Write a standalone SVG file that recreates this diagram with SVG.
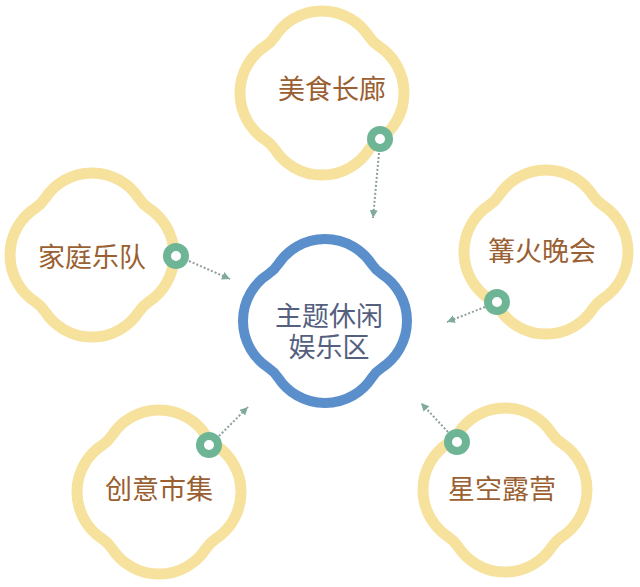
<svg xmlns="http://www.w3.org/2000/svg" width="640" height="587" viewBox="0 0 640 587">
  <style>
    .lobe { fill: #ffffff; stroke: #f6e19d; stroke-width: 11; }
    .hub { fill: #ffffff; stroke: #5b8fcb; stroke-width: 10; }
    .ring { fill: #ffffff; stroke: #6db595; stroke-width: 8; }
    .label { font-family: "Liberation Sans", "Noto Sans CJK SC", sans-serif; font-size: 27px; fill: #9a5f32; text-anchor: middle; }
    .hubtext { font-family: "Liberation Sans", "Noto Sans CJK SC", sans-serif; font-size: 27px; fill: #55607f; text-anchor: middle; }
    .conn { fill: none; stroke: #8e9e9c; stroke-width: 2; stroke-dasharray: 2 2; }
  </style>
  <defs>
    <path id="flower" d="M-46.85,-56.68 A56,56 0 0 1 46.85,-56.68 A34,34 0 0 0 56.68,-46.85 A56,56 0 0 1 56.68,46.85 A34,34 0 0 0 46.85,56.68 A56,56 0 0 1 -46.85,56.68 A34,34 0 0 0 -56.68,46.85 A56,56 0 0 1 -56.68,-46.85 A34,34 0 0 0 -46.85,-56.68 Z"/>
    <marker id="head" markerUnits="userSpaceOnUse" markerWidth="9" markerHeight="9" refX="8" refY="4" orient="auto" viewBox="0 0 9 9">
      <path d="M0,0 L8,4 L0,8 Z" fill="#80aa9c"/>
    </marker>
  </defs>
  <rect width="640" height="587" fill="#ffffff"/>

  <g id="connectors">
    <line class="conn" x1="379" y1="153" x2="373" y2="218" marker-end="url(#head)"/>
    <line class="conn" x1="189" y1="261" x2="230" y2="279" marker-end="url(#head)"/>
    <line class="conn" x1="485" y1="307" x2="447" y2="322" marker-end="url(#head)"/>
    <line class="conn" x1="219" y1="436" x2="248" y2="407" marker-end="url(#head)"/>
    <line class="conn" x1="448" y1="432" x2="421" y2="403" marker-end="url(#head)"/>
  </g>

  <g id="node-center">
    <use href="#flower" class="hub" transform="translate(325,321)"/>
    <text class="hubtext" x="329" y="326">主题休闲</text>
    <text class="hubtext" x="329" y="357">娱乐区</text>
  </g>

  <g id="node-food">
    <use href="#flower" class="lobe" transform="translate(322,93)"/>
    <text class="label" x="332" y="99">美食长廊</text>
    <circle class="ring" cx="380" cy="139" r="9"/>
  </g>

  <g id="node-band">
    <use href="#flower" class="lobe" transform="translate(92,255)"/>
    <text class="label" x="92" y="267">家庭乐队</text>
    <circle class="ring" cx="176" cy="256" r="9"/>
  </g>

  <g id="node-bonfire">
    <use href="#flower" class="lobe" transform="translate(546,252)"/>
    <text class="label" x="542" y="261">篝火晚会</text>
    <circle class="ring" cx="497" cy="302" r="9"/>
  </g>

  <g id="node-market">
    <use href="#flower" class="lobe" transform="translate(159,492)"/>
    <text class="label" x="159" y="499">创意市集</text>
    <circle class="ring" cx="209" cy="445" r="9"/>
  </g>

  <g id="node-camp">
    <use href="#flower" class="lobe" transform="translate(505,490)"/>
    <text class="label" x="502" y="499">星空露营</text>
    <circle class="ring" cx="457" cy="442" r="9"/>
  </g>
</svg>
